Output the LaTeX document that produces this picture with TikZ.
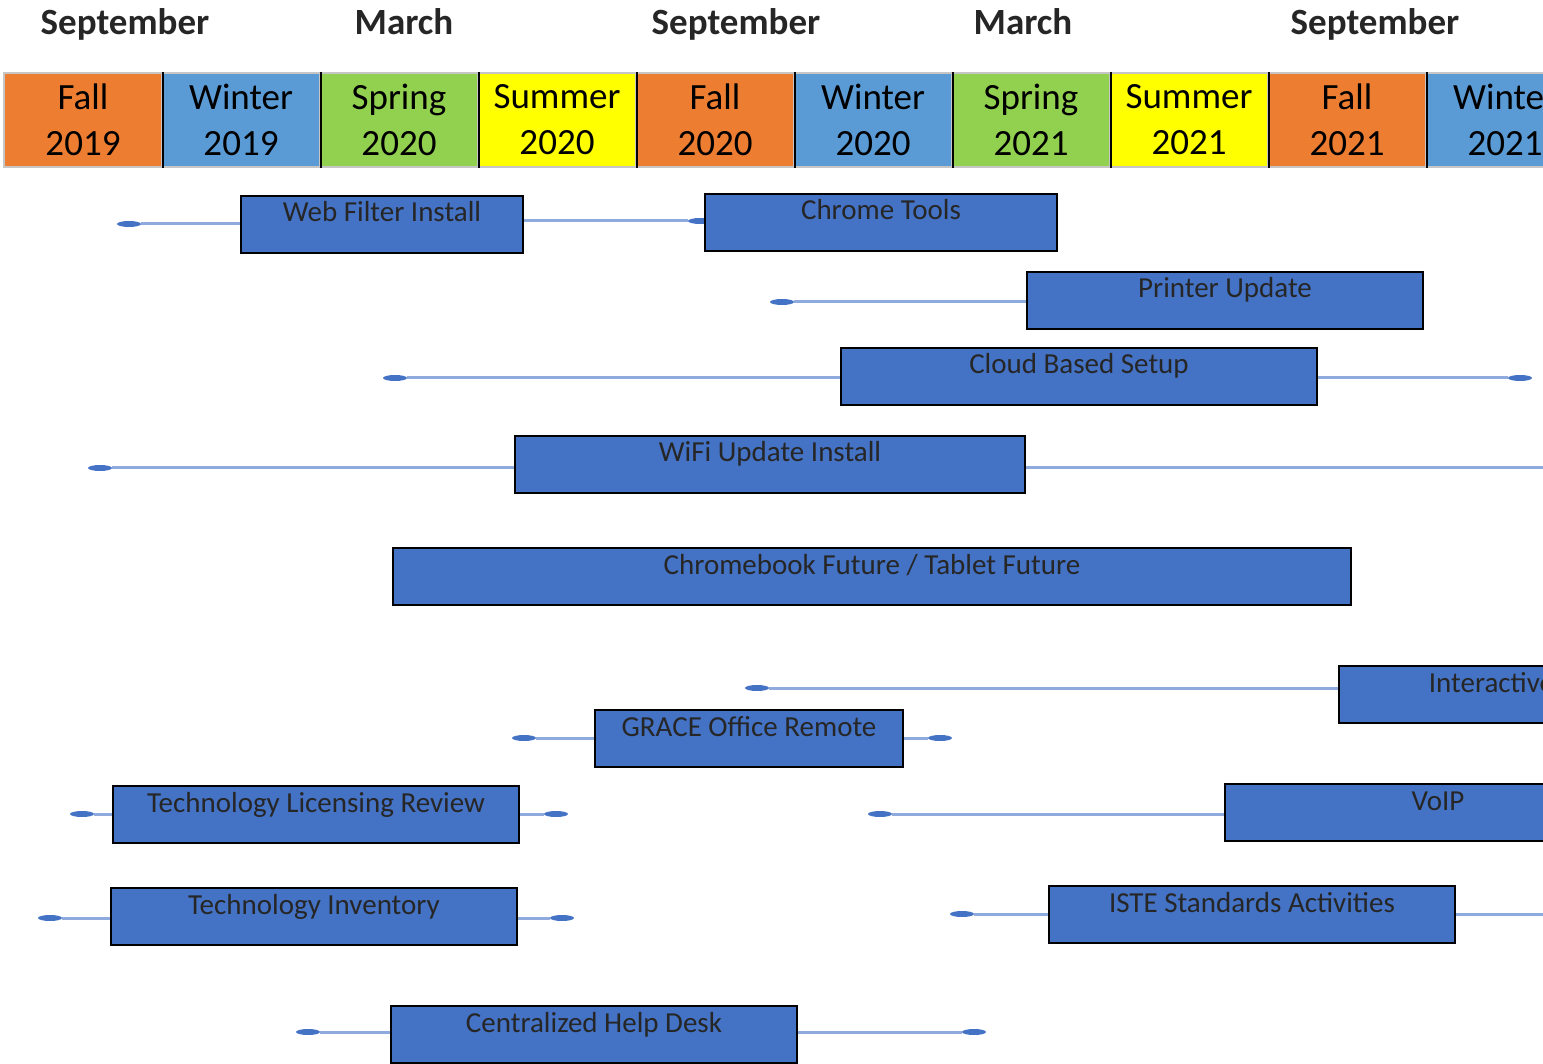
\documentclass[tikz,border=0pt]{standalone}
\usepackage{fontspec}
\setmainfont{Carlito}
\usetikzlibrary{shapes.geometric}
\definecolor{fallc}{HTML}{ED7D31}
\definecolor{winterc}{HTML}{5B9BD5}
\definecolor{springc}{HTML}{92D050}
\definecolor{summerc}{HTML}{FFFF00}
\definecolor{barc}{HTML}{4472C4}
\definecolor{linkc}{HTML}{8FAADC}
\tikzset{
  season/.style={draw=gray!45, line width=2pt, minimum width=158pt, minimum height=94pt,
    inner sep=0pt, align=center, font=\fontsize{37}{46}\selectfont},
  month/.style={anchor=base, font=\fontsize{37}{42}\selectfont\bfseries, text=black!85},
  task/.style={draw=black, line width=2pt, fill=barc, anchor=north west, inner sep=0pt,
    text height=26pt, text depth=31pt, font=\fontsize{29}{34}\selectfont, text=black!85},
  pin/.style={ellipse, fill=barc, minimum width=24pt, minimum height=6pt, inner sep=0pt},
  link/.style={linkc, line width=3pt},
}

\begin{document}
\begin{tikzpicture}[x=1pt, y=-1pt]
      \useasboundingbox (0,0) rectangle (1543,1064);
      \clip (0,0) rectangle (1543,1064);
      % months
      \node[month] (sep19) at (125,35) {September};
      \node[month] (mar20) at (404,35) {March};
      \node[month] (sep20) at (736,35) {September};
      \node[month] (mar21) at (1023,35) {March};
      \node[month] (sep21) at (1375,35) {September};
      % seasons
      \node[season, fill=fallc] (fall19) at (83,120) {Fall\\2019};
      \node[season, fill=winterc] (win19) at (241,120) {Winter\\2019};
      \node[season, fill=springc] (spr20) at (399,120) {Spring\\2020};
      \node[season, fill=summerc] (sum20) at (557,120) {Summer\\2020};
      \node[season, fill=fallc] (fall20) at (715,120) {Fall\\2020};
      \node[season, fill=winterc] (win20) at (873,120) {Winter\\2020};
      \node[season, fill=springc] (spr21) at (1031,120) {Spring\\2021};
      \node[season, fill=summerc] (sum21) at (1189,120) {Summer\\2021};
      \node[season, fill=fallc] (fall21) at (1347,120) {Fall\\2021};
      \node[season, fill=winterc] (win21) at (1505,120) {Winter\\2021};
      % dividers
      \draw[line width=2pt] (fall19.north east) -- (fall19.south east);
      \draw[line width=2pt] (win19.north east) -- (win19.south east);
      \draw[line width=2pt] (spr20.north east) -- (spr20.south east);
      \draw[line width=2pt] (sum20.north east) -- (sum20.south east);
      \draw[line width=2pt] (fall20.north east) -- (fall20.south east);
      \draw[line width=2pt] (win20.north east) -- (win20.south east);
      \draw[line width=2pt] (spr21.north east) -- (spr21.south east);
      \draw[line width=2pt] (sum21.north east) -- (sum21.south east);
      \draw[line width=2pt] (fall21.north east) -- (fall21.south east);
      % pins
      \node[pin] (web-s) at (129,224) {};
      \node[pin] (chrome-s) at (700,221) {};
      \node[pin] (printer-s) at (782,302) {};
      \node[pin] (cloud-s) at (395,378) {};
      \node[pin] (cloud-e) at (1520,378) {};
      \node[pin] (wifi-s) at (100,468) {};
      \coordinate (wifi-e) at (1560,468);
      \node[pin] (inter-s) at (757,688) {};
      \node[pin] (grace-s) at (524,738) {};
      \node[pin] (grace-e) at (940,738) {};
      \node[pin] (license-s) at (82,814) {};
      \node[pin] (license-e) at (556,814) {};
      \node[pin] (voip-s) at (880,814) {};
      \node[pin] (iste-s) at (962,914) {};
      \coordinate (iste-e) at (1560,914);
      \node[pin] (inv-s) at (50,918) {};
      \node[pin] (inv-e) at (562,918) {};
      \node[pin] (help-s) at (308,1032) {};
      \node[pin] (help-e) at (974,1032) {};
      % tasks
      \node[task, minimum width=282pt] (web) at (240,195) {Web Filter Install};
      \node[task, minimum width=352pt] (chrome) at (704,193) {Chrome Tools};
      \node[task, minimum width=396pt] (printer) at (1026,271) {Printer Update};
      \node[task, minimum width=476pt] (cloud) at (840,347) {Cloud Based Setup};
      \node[task, minimum width=510pt] (wifi) at (514,435) {WiFi Update Install};
      \node[task, minimum width=958pt] (chromebook) at (392,547) {Chromebook Future / Tablet Future};
      \node[task, minimum width=305pt] (inter) at (1338,665) {Interactive};
      \node[task, minimum width=308pt] (grace) at (594,709) {GRACE Office Remote};
      \node[task, minimum width=406pt] (license) at (112,785) {Technology Licensing Review};
      \node[task, minimum width=426pt] (voip) at (1224,783) {VoIP};
      \node[task, minimum width=406pt] (iste) at (1048,885) {ISTE Standards Activities};
      \node[task, minimum width=406pt] (inv) at (110,887) {Technology Inventory};
      \node[task, minimum width=406pt] (help) at (390,1005) {Centralized Help Desk};
      % links
      \draw[link] (web-s) -- (web-s -| web.west);
      \draw[link] (web.east |- chrome-s) -- (chrome-s);
      \draw[link] (printer-s) -- (printer-s -| printer.west);
      \draw[link] (cloud-s) -- (cloud-s -| cloud.west);
      \draw[link] (cloud.east |- cloud-e) -- (cloud-e);
      \draw[link] (wifi-s) -- (wifi-s -| wifi.west);
      \draw[link] (wifi.east |- wifi-e) -- (wifi-e);
      \draw[link] (inter-s) -- (inter-s -| inter.west);
      \draw[link] (grace-s) -- (grace-s -| grace.west);
      \draw[link] (grace.east |- grace-e) -- (grace-e);
      \draw[link] (license-s) -- (license-s -| license.west);
      \draw[link] (license.east |- license-e) -- (license-e);
      \draw[link] (voip-s) -- (voip-s -| voip.west);
      \draw[link] (iste-s) -- (iste-s -| iste.west);
      \draw[link] (iste.east |- iste-e) -- (iste-e);
      \draw[link] (inv-s) -- (inv-s -| inv.west);
      \draw[link] (inv.east |- inv-e) -- (inv-e);
      \draw[link] (help-s) -- (help-s -| help.west);
      \draw[link] (help.east |- help-e) -- (help-e);
\end{tikzpicture}
\end{document}
